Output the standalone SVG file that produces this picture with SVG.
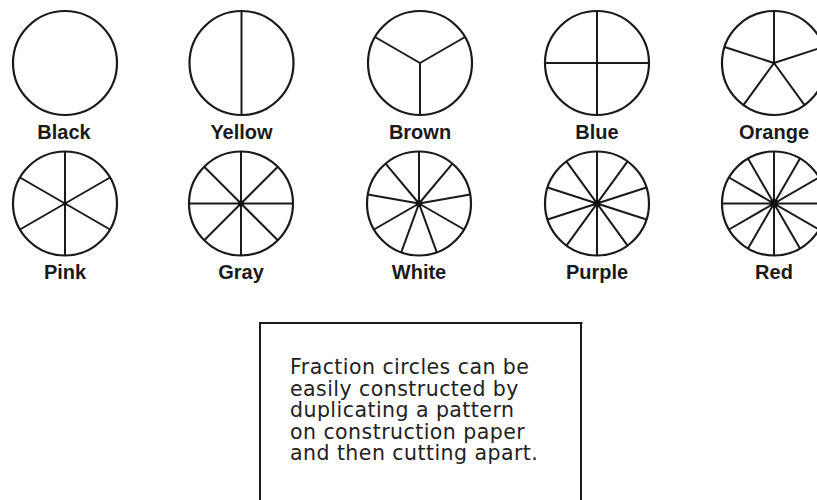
<svg xmlns="http://www.w3.org/2000/svg" width="817" height="500" viewBox="0 0 817 500">
<style>
.c{fill:none;stroke:#1a1a1a;stroke-width:2.2}
.s{stroke:#1a1a1a;stroke-width:2;fill:none}
.d{fill:#111}
.lbl{font-family:"Liberation Sans",Arial,sans-serif;font-weight:bold;font-size:20px;fill:#1a1a1a;text-anchor:middle}
.note{font-family:"DejaVu Sans",Verdana,sans-serif;font-size:20.5px;letter-spacing:0.45px;fill:#222}
</style>
<rect width="817" height="500" fill="#fff"/>
<g id="black">
<circle class="c" cx="65" cy="63" r="52"/>
<text class="lbl" x="64" y="139">Black</text>
</g>
<g id="yellow">
<circle class="c" cx="241.5" cy="63" r="52"/>
<path class="s" d="M241.5,11V115"/>
<text class="lbl" x="241.5" y="139">Yellow</text>
</g>
<g id="brown">
<circle class="c" cx="420" cy="63" r="52"/>
<path class="s" d="M420,63L465.03,37M420,63L374.97,37M420,63V115"/>
<text class="lbl" x="420" y="139">Brown</text>
</g>
<g id="blue">
<circle class="c" cx="597" cy="63" r="52"/>
<path class="s" d="M597,11V115M545,63H649"/>
<circle class="d" cx="597" cy="63" r="1.5"/>
<text class="lbl" x="597" y="139">Blue</text>
</g>
<g id="orange">
<circle class="c" cx="774" cy="63" r="52"/>
<path class="s" d="M774,63V11M774,63L823.46,46.93M774,63L804.57,105.07M774,63L743.43,105.07M774,63L724.54,46.93"/>
<circle class="d" cx="774" cy="63" r="1.5"/>
<text class="lbl" x="774" y="139">Orange</text>
</g>
<g id="pink">
<circle class="c" cx="65" cy="203.5" r="52"/>
<path class="s" d="M65,151.5V255.5M110.03,177.5L19.97,229.5M110.03,229.5L19.97,177.5"/>
<circle class="d" cx="65" cy="203.5" r="2"/>
<text class="lbl" x="65" y="279">Pink</text>
</g>
<g id="gray">
<circle class="c" cx="241" cy="203.5" r="52"/>
<path class="s" d="M241,151.5V255.5M189,203.5H293M204.23,166.73L277.77,240.27M277.77,166.73L204.23,240.27"/>
<circle class="d" cx="241" cy="203.5" r="3"/>
<text class="lbl" x="241" y="279">Gray</text>
</g>
<g id="white">
<circle class="c" cx="419" cy="203.5" r="52"/>
<path class="s" d="M419,203.5L419,151.5M419,203.5L452.43,163.67M419,203.5L470.21,194.47M419,203.5L464.03,229.5M419,203.5L436.78,252.36M419,203.5L401.22,252.36M419,203.5L373.97,229.5M419,203.5L367.79,194.47M419,203.5L385.57,163.67"/>
<circle class="d" cx="419" cy="203.5" r="3.2"/>
<text class="lbl" x="419" y="279">White</text>
</g>
<g id="purple">
<circle class="c" cx="597" cy="203.5" r="52"/>
<path class="s" d="M597,151.5V255.5M627.57,161.43L566.43,245.57M646.46,187.43L547.54,219.57M646.46,219.57L547.54,187.43M627.57,245.57L566.43,161.43"/>
<circle class="d" cx="597" cy="203.5" r="3.5"/>
<text class="lbl" x="597" y="279">Purple</text>
</g>
<g id="red">
<circle class="c" cx="774" cy="203.5" r="52"/>
<path class="s" d="M774,151.5V255.5M800,158.47L748,248.53M819.03,177.5L728.97,229.5M722,203.5H826M819.03,229.5L728.97,177.5M800,248.53L748,158.47"/>
<circle class="d" cx="774" cy="203.5" r="4"/>
<text class="lbl" x="774" y="279">Red</text>
</g>
<g id="note">
<path class="s" d="M260,501V323H582.5M581,323V501"/>
<text class="note" x="290" y="374"><tspan x="290" y="374">Fraction circles can be</tspan><tspan x="290" y="395.5">easily constructed by</tspan><tspan x="290" y="417">duplicating a pattern</tspan><tspan x="290" y="438.5">on construction paper</tspan><tspan x="290" y="460">and then cutting apart.</tspan></text>
</g>
</svg>
